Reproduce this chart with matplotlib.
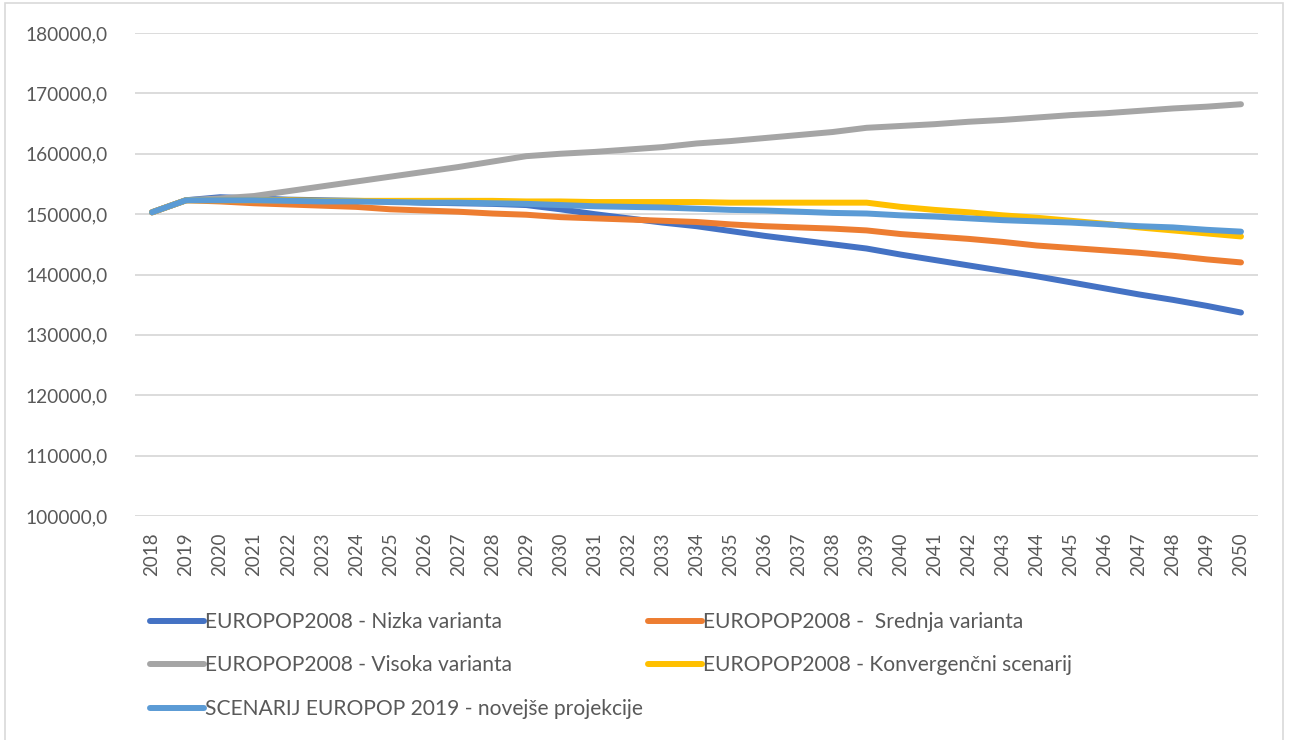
import numpy as np
import matplotlib.pyplot as plt
from matplotlib.patches import Rectangle

years = list(range(2018, 2051))

nizka = [150300, 152300, 152800, 152600, 152400, 152300, 152200, 152100, 151900, 151800,
         151700, 151500, 150800, 150000, 149300, 148600, 148000, 147200, 146400, 145700,
         145000, 144300, 143300, 142400, 141500, 140600, 139700, 138700, 137700, 136700,
         135800, 134800, 133700]
srednja = [150300, 152300, 152100, 151800, 151600, 151400, 151200, 150800, 150600, 150400,
           150100, 149900, 149500, 149300, 149100, 148900, 148700, 148300, 148000, 147800,
           147600, 147300, 146700, 146300, 145900, 145400, 144800, 144400, 144000, 143600,
           143100, 142500, 142000]
visoka = [150300, 152300, 152600, 153000, 153800, 154600, 155400, 156200, 157000, 157800,
          158700, 159600, 160000, 160300, 160700, 161100, 161700, 162100, 162600, 163100,
          163600, 164300, 164600, 164900, 165300, 165600, 166000, 166400, 166700, 167100,
          167500, 167800, 168200]
konv = [150300, 152300, 152300, 152300, 152300, 152200, 152200, 152200, 152200, 152200,
        152200, 152100, 152100, 152000, 152000, 152000, 152000, 151900, 151900, 151900,
        151900, 151900, 151200, 150700, 150300, 149800, 149400, 148900, 148400, 147800,
        147300, 146800, 146300]
scenarij = [150300, 152300, 152300, 152300, 152200, 152100, 152100, 152000, 151900, 151900,
            151800, 151700, 151500, 151300, 151200, 151100, 150900, 150700, 150600, 150400,
            150200, 150100, 149800, 149600, 149300, 149000, 148800, 148600, 148300, 148000,
            147800, 147400, 147100]

labels = ['EUROPOP2008 - Nizka varianta', 'EUROPOP2008 -  Srednja varianta',
          'EUROPOP2008 - Visoka varianta', 'EUROPOP2008 - Konvergenčni scenarij',
          'SCENARIJ EUROPOP 2019 - novejše projekcije']
colors = ['#4472C4', '#ED7D31', '#A5A5A5', '#FFC000', '#5B9BD5']
series = [nizka, srednja, visoka, konv, scenarij]

plt.rcParams['font.family'] = ['Lato', 'DejaVu Sans']
txt = '#595959'

fig = plt.figure(figsize=(12.91, 7.40), dpi=100)
ax = fig.add_axes([135 / 1291, 1 - 516 / 740, (1258 - 135) / 1291, (516 - 33) / 740])

x = np.arange(len(years))
lines = []
for s, c, lab in zip(series, colors, labels):
    ln, = ax.plot(x, s, color=c, lw=4.3, solid_capstyle='round', solid_joinstyle='round', label=lab)
    lines.append(ln)

ax.set_xlim(-0.5, len(years) - 0.5)
ax.set_ylim(100000, 180000)
ax.set_yticks(np.arange(100000, 180001, 10000))
ax.set_yticklabels(['{:.1f}'.format(v).replace('.', ',') for v in range(100000, 180001, 10000)],
                   color=txt, fontsize=13.8)
ax.set_xticks(x)
ax.set_xticklabels([str(y) for y in years], rotation=90, color=txt, fontsize=13.5)
ax.tick_params(length=0, pad=12)
ax.tick_params(axis='y', pad=20)
ax.grid(axis='y', color='#d9d9d9', lw=1.3)
ax.set_axisbelow(True)
for sp in ax.spines.values():
    sp.set_visible(False)

# legendrekkefolge: kolonne 1 = Nizka, Visoka, Scenarij; kolonne 2 = Srednja, Konv
order = [0, 2, 4, 1, 3]
fig.legend([lines[i] for i in order], [labels[i] for i in order], ncol=2,
           loc='upper left', bbox_to_anchor=(131 / 1291, 1 - 593 / 740), frameon=False,
           handlelength=2.6, handletextpad=0.05, columnspacing=0.2, labelspacing=1.12,
           prop={'size': 15.1}, labelcolor=txt)

fig.patches.append(Rectangle((5 / 1291, -0.01), (1283 - 5) / 1291, 1 - 3 / 740 + 0.01,
                             transform=fig.transFigure, fill=False, edgecolor='#d9d9d9', lw=1.2))

fig.savefig('out.png', dpi=100)
